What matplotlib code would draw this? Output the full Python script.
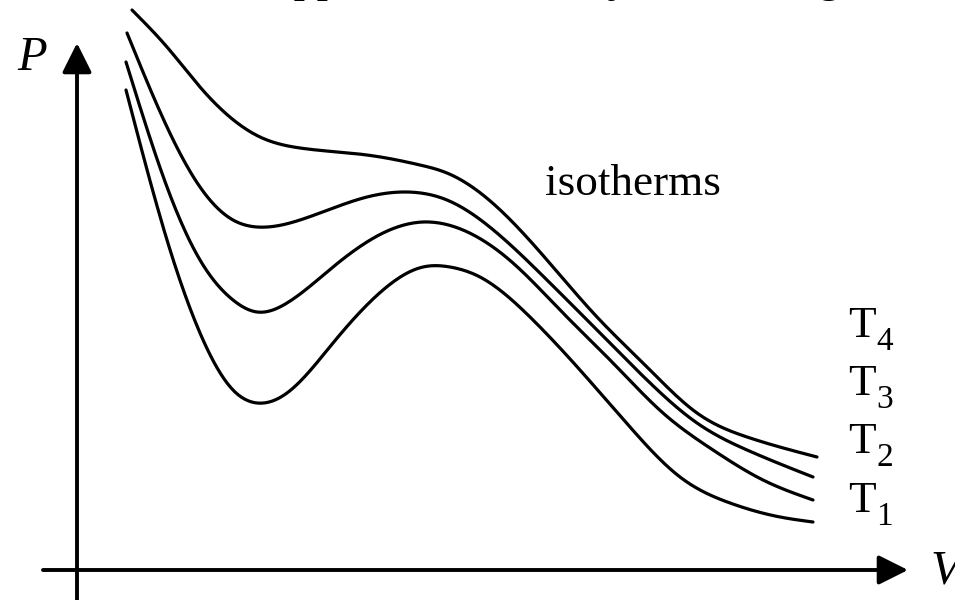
import numpy as np
import matplotlib
matplotlib.use("Agg")
import matplotlib.pyplot as plt

plt.rcParams["font.family"] = ["Liberation Serif", "DejaVu Serif"]

# isotherms (V, P), T1 lowest ... T4 highest
v_t1 = [0.49, 0.90, 1.23, 1.56, 1.80, 2.10, 2.56, 3.06, 3.46, 3.73, 4.03, 4.53, 5.03, 5.53, 6.03, 6.53, 7.03, 7.36]
p_t1 = [4.80, 3.30, 2.37, 1.80, 1.67, 1.77, 2.27, 2.80, 3.03, 3.03, 2.93, 2.53, 2.00, 1.43, 0.93, 0.67, 0.53, 0.48]

v_t2 = [0.49, 0.90, 1.23, 1.56, 1.80, 2.10, 2.56, 3.06, 3.46, 3.86, 4.36, 4.86, 5.36, 5.86, 6.36, 6.86, 7.36]
p_t2 = [5.08, 3.83, 3.10, 2.70, 2.58, 2.67, 3.03, 3.37, 3.48, 3.40, 3.07, 2.57, 2.07, 1.57, 1.20, 0.90, 0.70]

v_t3 = [0.50, 0.90, 1.23, 1.56, 1.80, 2.23, 2.90, 3.30, 3.70, 4.20, 4.70, 5.20, 5.70, 6.20, 6.70, 7.36]
p_t3 = [5.37, 4.43, 3.83, 3.50, 3.43, 3.50, 3.73, 3.78, 3.70, 3.37, 2.90, 2.40, 1.90, 1.47, 1.20, 0.93]

v_t4 = [0.55, 0.90, 1.23, 1.83, 2.23, 2.90, 3.43, 3.70, 4.20, 4.70, 5.20, 5.70, 6.20, 6.70, 7.40]
p_t4 = [5.60, 5.23, 4.83, 4.33, 4.22, 4.15, 4.05, 3.97, 3.63, 3.10, 2.53, 2.03, 1.57, 1.33, 1.13]

labels = ["T", "T", "T", "T"]
subs = ["4", "3", "2", "1"]
label_p = [2.33, 1.75, 1.17, 0.58]


def spline(xs, ys, n=400):
    # natural cubic spline through the read points, only for drawing
    x = np.asarray(xs, float)
    y = np.asarray(ys, float)
    k = len(x)
    h = np.diff(x)
    A = np.zeros((k, k))
    b = np.zeros(k)
    A[0, 0] = A[-1, -1] = 1
    for i in range(1, k - 1):
        A[i, i - 1] = h[i - 1]
        A[i, i] = 2 * (h[i - 1] + h[i])
        A[i, i + 1] = h[i]
        b[i] = 6 * ((y[i + 1] - y[i]) / h[i] - (y[i] - y[i - 1]) / h[i - 1])
    m = np.linalg.solve(A, b)
    xx = np.linspace(x[0], x[-1], n)
    j = np.clip(np.searchsorted(x, xx) - 1, 0, k - 2)
    t = xx - x[j]
    hj = h[j]
    a = (m[j + 1] - m[j]) / (6 * hj)
    bb = m[j] / 2
    c = (y[j + 1] - y[j]) / hj - hj * (2 * m[j] + m[j + 1]) / 6
    yy = y[j] + c * t + bb * t ** 2 + a * t ** 3
    return xx, yy


fig = plt.figure(figsize=(9.55, 6), dpi=100)
ax = fig.add_axes([0, 0, 1, 1])
ax.set_xlim(-0.77, 8.78)
ax.set_ylim(-0.30, 5.70)
ax.axis("off")

for vs, ps in [(v_t1, p_t1), (v_t2, p_t2), (v_t3, p_t3), (v_t4, p_t4)]:
    xx, yy = spline(vs, ps)
    ax.plot(xx, yy, color="black", lw=2.3, solid_capstyle="round")

# axes with arrows
arrow = dict(arrowstyle="-|>,head_length=1.0,head_width=0.5", color="black",
             lw=2.8, mutation_scale=18, shrinkA=0, shrinkB=0)
ax.annotate("", xy=(0, 5.27), xytext=(0, -0.30), arrowprops=arrow)
ax.annotate("", xy=(8.31, 0), xytext=(-0.34, 0), arrowprops=arrow)

ax.text(-0.60, 5.00, "P", fontsize=35, style="italic", va="baseline")
ax.text(8.53, -0.13, "V", fontsize=35, style="italic", va="baseline")

ax.text(4.68, 3.75, "isotherms", fontsize=32.5, va="baseline")
for lab, sub, pp in zip(labels, subs, label_p):
    ax.text(7.71, pp, lab, fontsize=32.5, va="baseline")
    ax.text(7.99, pp - 0.13, sub, fontsize=24, va="baseline")

# title, mostly cut off by the top edge
ax.text(1.68, 5.79, "Suppose isotherm by an actual gas",
        fontsize=33, va="baseline", clip_on=False)

fig.savefig("out.png", dpi=100)
